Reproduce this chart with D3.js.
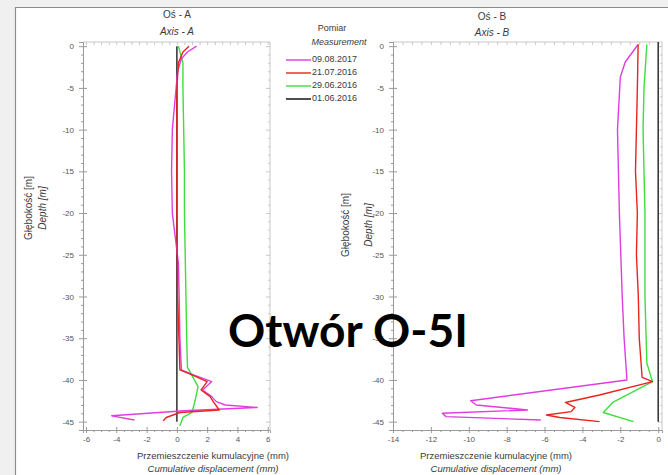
<!DOCTYPE html>
<html>
<head>
<meta charset="utf-8">
<script src="https://cdn.jsdelivr.net/npm/d3@7/dist/d3.min.js"></script>
<style>
  html, body { margin: 0; padding: 0; background: #f0f0f0; }
  svg { display: block; font-family: "Liberation Sans", Arial, sans-serif; }
  .axis path, .axis line { stroke: #9a9a9a; }
  .axis text { fill: #555; font-size: 8px; }
  .frame line, .frame path { stroke: #c8c8c8; }
</style>
</head>
<body>
<div id="chart"></div>
<script>
// legend
const seriesNames = ['09.08.2017', '21.07.2016', '29.06.2016', '01.06.2016'];
const seriesColors = ['#e03ce0', '#e8241e', '#3ede3e', '#3a3a3a'];

// depth ticks
const depthTicks = [0, -5, -10, -15, -20, -25, -30, -35, -40, -45];
const ticksA = [-6, -4, -2, 0, 2, 4, 6];
const ticksB = [-14, -12, -10, -8, -6, -4, -2, 0];

// Oś A (depth m, displacement mm)
const aMagentaDepth = [0, -0.7, -1.5, -3, -6, -10, -15, -20, -23, -26, -30, -35, -38.8, -39.4, -40.2, -41.2, -42.0, -42.6, -43.0, -43.3, -43.7, -44.3, -44.8];
const aMagentaVal   = [1.3, 0.7, 0.3, 0.05, -0.1, -0.3, -0.35, -0.3, -0.1, 0.1, 0.15, 0.2, 0.3, 1.1, 2.3, 1.7, 2.3, 2.6, 3.2, 5.3, 0.5, -4.3, -2.8];
const aRedDepth = [0, -0.7, -2, -5, -10, -20, -30, -38.8, -39.4, -40.2, -41.2, -42.0, -42.6, -43.6, -43.9, -44.5, -44.9];
const aRedVal   = [0.8, 0.4, 0.1, 0, 0, 0, 0.05, 0.2, 1.0, 2.0, 1.6, 2.2, 2.4, 2.8, 0.2, -0.7, -0.9];
const aGreenDepth = [0, -2, -5, -10, -15, -20, -25, -30, -35, -38.5, -40.8, -42.5, -43.9, -44.5, -45.5];
const aGreenVal   = [0.1, 0.4, 0.4, 0.45, 0.5, 0.5, 0.55, 0.6, 0.65, 0.7, 1.4, 1.2, 1.0, 0.4, 0.2];
const aBlackDepth = [0, -45];
const aBlackVal   = [0, 0];

// Oś B
const bMagentaDepth = [0.2, -1.9, -3.7, -10, -20, -30, -35, -40.0, -42.5, -43.0, -43.6, -44.0, -44.4, -44.8];
const bMagentaVal   = [-1.06, -1.74, -2.0, -2.15, -2.05, -1.9, -1.8, -1.65, -9.9, -9.6, -6.9, -11.4, -11.2, -6.2];
const bRedDepth = [0.2, -5, -10, -15, -20, -25, -30, -35, -39.7, -40.2, -41.8, -42.7, -43.3, -43.8, -44.2, -44.5, -45.0];
const bRedVal   = [-1.06, -1.1, -1.15, -1.2, -1.1, -1.15, -1.05, -1.0, -0.85, -0.3, -3.1, -4.9, -4.4, -4.6, -5.9, -5.2, -3.1];
const bGreenDepth = [0.2, -5, -10, -20, -30, -38, -40.2, -42.7, -43.9, -45.0];
const bGreenVal   = [-0.6, -0.75, -0.8, -0.7, -0.7, -0.6, -0.3, -2.4, -2.9, -1.3];
const bBlackDepth = [0.5, -45];
const bBlackVal   = [0, 0];

const W = 668, H = 475;
const svg = d3.select('#chart').append('svg').attr('width', W).attr('height', H);

// page panel
svg.append('rect').attr('width', W).attr('height', H).attr('fill', '#f0f0f0');
svg.append('rect').attr('x', 15).attr('y', 7).attr('width', W - 15).attr('height', H - 7).attr('fill', '#fff');
svg.append('path').attr('d', `M15.5,${H}V7.5H${W}`).attr('fill', 'none').attr('stroke', '#8c8c8c').attr('stroke-width', 1.2);

const y = d3.scaleLinear().domain([0.5, -46]).range([42, 430]);
const xA = d3.scaleLinear().domain([-6.2, 6.15]).range([83, 270]);
const xB = d3.scaleLinear().domain([-14, 0.2]).range([393, 662]);

const minorDepth = d3.range(0, -46, -1).filter(d => d % 5 !== 0);
const fmt = d => String(d);

function panel(x, ticks, minorStep, series) {
  const [x0, x1] = x.range();
  const top = y.range()[0], bot = y.range()[1];
  const minorX = d3.range(x.domain()[0] < ticks[0] ? ticks[0] : x.domain()[0], ticks[ticks.length - 1] + 0.01, minorStep)
    .filter(v => !ticks.includes(Math.round(v * 100) / 100));

  // frame: top and right borders with small ticks
  const fr = svg.append('g').attr('class', 'frame');
  fr.append('line').attr('x1', x0).attr('x2', x1).attr('y1', top).attr('y2', top);
  fr.append('line').attr('x1', x1).attr('x2', x1).attr('y1', top).attr('y2', bot);
  fr.append('g').attr('class', 'axis').attr('transform', `translate(0,${top})`)
    .call(d3.axisBottom(x).tickValues(ticks.concat(minorX)).tickSize(3).tickFormat(''))
    .call(g => g.select('.domain').remove());
  fr.append('g').attr('class', 'axis').attr('transform', `translate(${x1},0)`)
    .call(d3.axisLeft(y).tickValues(depthTicks).tickSize(4).tickFormat(''))
    .call(g => g.select('.domain').remove());
  fr.append('g').attr('class', 'axis').attr('transform', `translate(${x1},0)`)
    .call(d3.axisLeft(y).tickValues(minorDepth).tickSize(2).tickFormat(''))
    .call(g => g.select('.domain').remove());

  // y axis, crossing ticks
  svg.append('g').attr('class', 'axis').attr('transform', `translate(${x0},0)`)
    .call(d3.axisLeft(y).tickValues(depthTicks).tickSize(4).tickPadding(5).tickFormat(fmt));
  svg.append('g').attr('class', 'axis').attr('transform', `translate(${x0},0)`)
    .call(d3.axisRight(y).tickValues(depthTicks).tickSize(4).tickFormat(''))
    .call(g => g.select('.domain').remove());
  svg.append('g').attr('class', 'axis').attr('transform', `translate(${x0},0)`)
    .call(d3.axisLeft(y).tickValues(minorDepth).tickSize(2).tickFormat(''))
    .call(g => g.select('.domain').remove());

  // x axis
  svg.append('g').attr('class', 'axis').attr('transform', `translate(0,${bot})`)
    .call(d3.axisBottom(x).tickValues(ticks).tickSize(3).tickPadding(3).tickFormat(fmt));
  svg.append('g').attr('class', 'axis').attr('transform', `translate(0,${bot})`)
    .call(d3.axisTop(x).tickValues(ticks).tickSize(3).tickFormat(''))
    .call(g => g.select('.domain').remove());
  svg.append('g').attr('class', 'axis').attr('transform', `translate(0,${bot})`)
    .call(d3.axisBottom(x).tickValues(minorX).tickSize(2).tickFormat(''))
    .call(g => g.select('.domain').remove());

  const line = d3.line().x(d => x(d[1])).y(d => y(d[0]));
  // draw order: black, green, magenta, red
  [3, 2, 0, 1].forEach(i => {
    const s = series[i];
    svg.append('path')
      .datum(d3.zip(s[0], s[1]))
      .attr('fill', 'none')
      .attr('stroke', seriesColors[i])
      .attr('stroke-width', i === 3 ? 1.6 : 1.4)
      .attr('stroke-linejoin', 'round')
      .attr('d', line);
  });
}

panel(xA, ticksA, 0.5, [
  [aMagentaDepth, aMagentaVal], [aRedDepth, aRedVal], [aGreenDepth, aGreenVal], [aBlackDepth, aBlackVal]
]);
panel(xB, ticksB, 0.5, [
  [bMagentaDepth, bMagentaVal], [bRedDepth, bRedVal], [bGreenDepth, bGreenVal], [bBlackDepth, bBlackVal]
]);

// texts
function label(x, yy, txt, opts = {}) {
  return svg.append('text')
    .attr('x', x).attr('y', yy)
    .attr('text-anchor', opts.anchor || 'middle')
    .attr('dominant-baseline', 'middle')
    .attr('font-size', opts.size || 10)
    .attr('font-style', opts.italic ? 'italic' : 'normal')
    .attr('fill', opts.fill || '#3a3a3a')
    .attr('transform', opts.rotate ? `rotate(-90,${x},${yy})` : null)
    .text(txt);
}

label(177, 15, 'Oś - A');
label(177, 32, 'Axis - A', { italic: true });
label(492, 17, 'Oś - B');
label(492, 33, 'Axis - B', { italic: true });

label(213, 456, 'Przemieszczenie kumulacyjne (mm)', { size: 9.5 });
label(213, 469, 'Cumulative displacement (mm)', { size: 9.5, italic: true });
label(496, 456, 'Przemieszczenie kumulacyjne (mm)', { size: 9.5 });
label(496, 469, 'Cumulative displacement (mm)', { size: 9.5, italic: true });

label(29, 208, 'Głębokość [m]', { rotate: true });
label(43, 208, 'Depth [m]', { rotate: true, italic: true });
label(346, 225, 'Głębokość [m]', { rotate: true });
label(369, 225, 'Depth [m]', { rotate: true, italic: true });

// legend
label(332, 29, 'Pomiar', { size: 9 });
label(339, 43, 'Measurement', { size: 9, italic: true });
const leg = svg.append('g');
seriesNames.forEach((n, i) => {
  const ly = 60 + i * 13;
  leg.append('line').attr('x1', 286).attr('x2', 311).attr('y1', ly).attr('y2', ly)
    .attr('stroke', seriesColors[i]).attr('stroke-width', i === 3 ? 1.8 : 1.4);
  leg.append('text').attr('x', 312).attr('y', ly).attr('dominant-baseline', 'middle')
    .attr('font-size', 9).attr('fill', '#3a3a3a').text(n);
});

// overlay title
svg.append('text')
  .attr('x', 348).attr('y', 347)
  .attr('text-anchor', 'middle')
  .attr('font-family', 'Lato, "Open Sans", sans-serif')
  .attr('font-weight', 'bold')
  .attr('font-size', 46)
  .attr('textLength', 240)
  .attr('lengthAdjust', 'spacingAndGlyphs')
  .attr('fill', '#000')
  .text('Otwór O-5I');
</script>
</body>
</html>
